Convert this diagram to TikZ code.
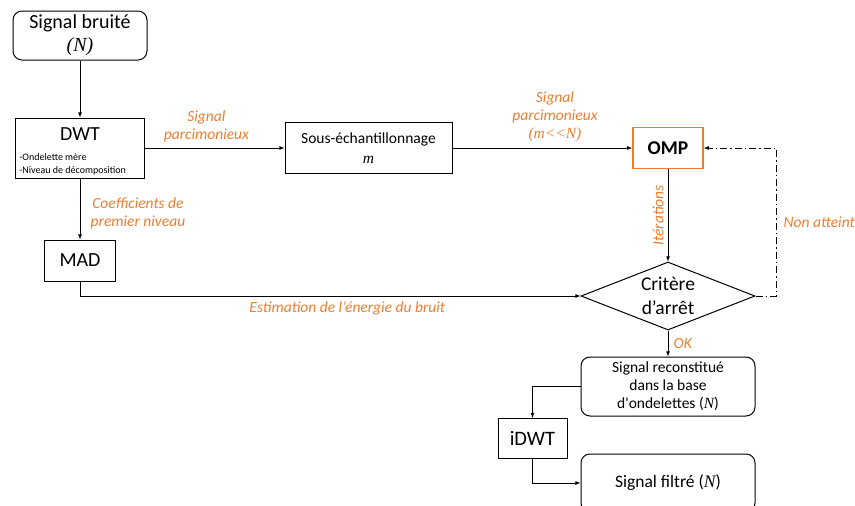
\documentclass[tikz,border=0pt]{standalone}
\usepackage{fontspec}
\setmainfont{Carlito}[Ligatures=TeXOff]
\newfontfamily\tnr{Liberation Serif}
\usetikzlibrary{arrows,shapes.geometric}
\definecolor{orng}{RGB}{237,125,49}

\begin{document}
\begin{tikzpicture}[x=1pt, y=-1pt, line width=0.8pt, >=latex,
    box/.style = {draw, rectangle, line width=1pt, inner sep=0pt},
    rbox/.style = {draw, rectangle, line width=1pt, rounded corners=9pt, inner sep=0pt},
    lbl/.style = {text=orng, font=\fontsize{15.5}{18}\selectfont\itshape, align=center}]
    \useasboundingbox (0,0) rectangle (855,506);

    % blocs
    \node[rbox, minimum width=134, minimum height=49, align=center, font=\fontsize{20}{23}\selectfont] (bruite) at (80,35.5) {Signal bruité\\{\tnr\itshape (N)}};
    \node[box, minimum width=129, minimum height=60] (dwt) at (80,148) {};
    \node[font=\fontsize{20}{22}\selectfont] (dwt_t) at (80,134) {DWT};
    \node[anchor=west, align=left, inner sep=0pt, font=\fontsize{10}{13}\selectfont] (dwt_s) at (19,164.5) {-Ondelette mère\\-Niveau de décomposition};
    \node[box, minimum width=167, minimum height=51, align=center, font=\fontsize{15.5}{20}\selectfont] (sous) at (368.5,148) {Sous-échantillonnage\\{\tnr\itshape m}};
    \node[box, draw=orng, line width=1.5pt, minimum width=70, minimum height=41, font=\fontsize{19.5}{22}\selectfont\bfseries] (omp) at (668,148) {OMP};
    \node[diamond, draw, line width=1pt, aspect=2.56, minimum width=174, minimum height=68, inner sep=0pt, align=center, font=\fontsize{19.5}{24}\selectfont] (crit) at (668,296) {Critère\\d’arrêt};
    \node[box, minimum width=71, minimum height=41, font=\fontsize{20}{22}\selectfont] (mad) at (80,260.5) {MAD};
    \node[rbox, minimum width=174, minimum height=59, align=center, font=\fontsize{15.5}{18}\selectfont] (recon) at (668,386.5) {Signal reconstitué\\dans la base\\d'ondelettes ({\tnr\itshape N})};
    \node[box, minimum width=69, minimum height=40, font=\fontsize{20.5}{22}\selectfont] (idwt) at (532.5,438.5) {iDWT};
    \node[rbox, minimum width=174, minimum height=58, font=\fontsize{17.5}{20}\selectfont] (filtre) at (668,483) {Signal filtré ({\tnr\itshape N})};
    \coordinate (ret) at (776,296);

    % liaisons
    \draw[->] (bruite) -- (dwt);
    \draw[->] (dwt) -- node[lbl, above=2pt, pos=0.44] {Signal\\parcimonieux} (sous);
    \draw[->] (sous) -- node[lbl, above=2pt, pos=0.57] {Signal\\parcimonieux\\{\tnr (m<<N)}} (omp);
    \draw[->] (dwt) -- node[lbl, anchor=west, xshift=7pt, yshift=-4pt] {Coefficients de\\premier niveau} (mad);
    \draw[->] (mad.south) |- node[lbl, below=2pt, pos=0.767] {Estimation de l’énergie du bruit} (crit.west);
    \draw[->] (omp) -- node[lbl, rotate=90, anchor=south, inner sep=2pt, yshift=2pt] {Itérations} (crit);
    \draw[->, dash pattern=on 7pt off 3pt on 1.5pt off 3pt] (crit.east) -- (ret) |- node[lbl, right=4pt, pos=0.25] {Non atteint} (omp.east);
    \draw[->] (crit) -- node[lbl, right=2pt] {OK} (recon);
    \draw[->] (recon.west) -| (idwt.north);
    \draw[->] (idwt.south) |- (filtre.west);
\end{tikzpicture}
\end{document}
